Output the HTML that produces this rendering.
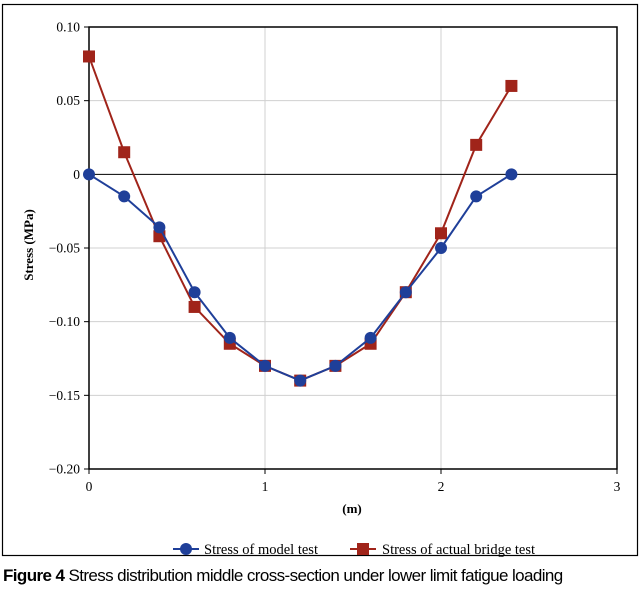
<!DOCTYPE html>
<html><head><meta charset="utf-8"><style>
body{margin:0;background:#fff;width:640px;height:590px;overflow:hidden}
svg{display:block}
</style></head><body>
<svg width="640" height="590" font-family="'Liberation Serif',serif">
<rect x="2.5" y="4.5" width="635" height="551" fill="none" stroke="#000" stroke-width="1.2"/>
<g id="grid"></g>
<g id="axes"></g>
<g id="series"></g>
<text x="33" y="245" transform="rotate(-90 33 245)" text-anchor="middle" font-size="13" font-weight="bold">Stress (MPa)</text>
<text x="352" y="513" text-anchor="middle" font-size="13" font-weight="bold">(m)</text>
<g>
<g>
<line x1="173" y1="549" x2="199" y2="549" stroke="#1f3f99" stroke-width="2"/>
<circle cx="186" cy="549" r="6" fill="#1f3f99"/>
<text x="204" y="554" font-size="14.5">Stress of model test</text></g>
<g>
<line x1="350" y1="549" x2="376" y2="549" stroke="#a0241a" stroke-width="2"/>
<rect x="357" y="543" width="12" height="12" fill="#a0241a"/>
<text x="382" y="554" font-size="14.5">Stress of actual bridge test</text></g>
</g>
<text x="3" y="581" font-family="'Liberation Sans',sans-serif" font-size="17" letter-spacing="-0.6"><tspan font-weight="bold">Figure 4</tspan> Stress distribution middle cross-section under lower limit fatigue loading</text>
</svg>
<script>
const xValues=[0,0.2,0.4,0.6,0.8,1,1.2,1.4,1.6,1.8,2,2.2,2.4];
const modelStress=[0,-0.015,-0.036,-0.08,-0.111,-0.13,-0.14,-0.13,-0.111,-0.08,-0.05,-0.015,0];
const bridgeStress=[0.08,0.015,-0.042,-0.09,-0.115,-0.13,-0.14,-0.13,-0.115,-0.08,-0.04,0.02,0.06];
const xTicks=[0,1,2,3];
const yTicks=[0.10,0.05,0,-0.05,-0.10,-0.15,-0.20];
const yTickLabels=['0.10','0.05','0','\u22120.05','\u22120.10','\u22120.15','\u22120.20'];
const L=89,R=617,T=27,B=469,xMin=0,xMax=3,yMin=-0.2,yMax=0.1;
const sx=v=>L+(v-xMin)/(xMax-xMin)*(R-L);
const sy=v=>B-(v-yMin)/(yMax-yMin)*(B-T);
const NS='http://www.w3.org/2000/svg';
function mk(p,tag,a){const e=document.createElementNS(NS,tag);for(const k in a)e.setAttribute(k,a[k]);p.appendChild(e);return e;}
const grid=document.getElementById('grid'),axes=document.getElementById('axes'),ser=document.getElementById('series');
xTicks.forEach(t=>{if(t>xMin&&t<xMax){const g=mk(grid,'line',{x1:sx(t),x2:sx(t),y1:T,y2:B,stroke:'#d0d0d0','stroke-width':1});

}
const tk=mk(axes,'line',{x1:sx(t),x2:sx(t),y1:B,y2:B+5,stroke:'#000'});


const tx=mk(axes,'text',{x:sx(t),y:B+22,'text-anchor':'middle','font-size':13.5});tx.textContent=t;

});
yTicks.forEach((t,i)=>{if(t<yMax&&t>yMin){const g=mk(grid,'line',{x1:L,x2:R,y1:sy(t),y2:sy(t),stroke:t===0?'#000':'#d0d0d0','stroke-width':1});

}
const tk=mk(axes,'line',{x1:L-5,x2:L,y1:sy(t),y2:sy(t),stroke:'#000'});


const tx=mk(axes,'text',{x:L-9,y:sy(t)+4.5,'text-anchor':'end','font-size':13.5});tx.textContent=yTickLabels[i];

});
const box=mk(axes,'rect',{x:L,y:T,width:R-L,height:B-T,fill:'none',stroke:'#000','stroke-width':1.5});


function series(vals,color,shape,name){
const pl=mk(ser,'polyline',{points:xValues.map((x,i)=>sx(x)+','+sy(vals[i])).join(' '),fill:'none',stroke:color,'stroke-width':2});


xValues.forEach((x,i)=>{let m;
if(shape==='c')m=mk(ser,'circle',{cx:sx(x),cy:sy(vals[i]),r:6,fill:color});
else m=mk(ser,'rect',{x:sx(x)-6,y:sy(vals[i])-6,width:12,height:12,fill:color});

});}
series(bridgeStress,'#a0241a','s','bridge');
series(modelStress,'#1f3f99','c','model');
</script>
</body></html>
